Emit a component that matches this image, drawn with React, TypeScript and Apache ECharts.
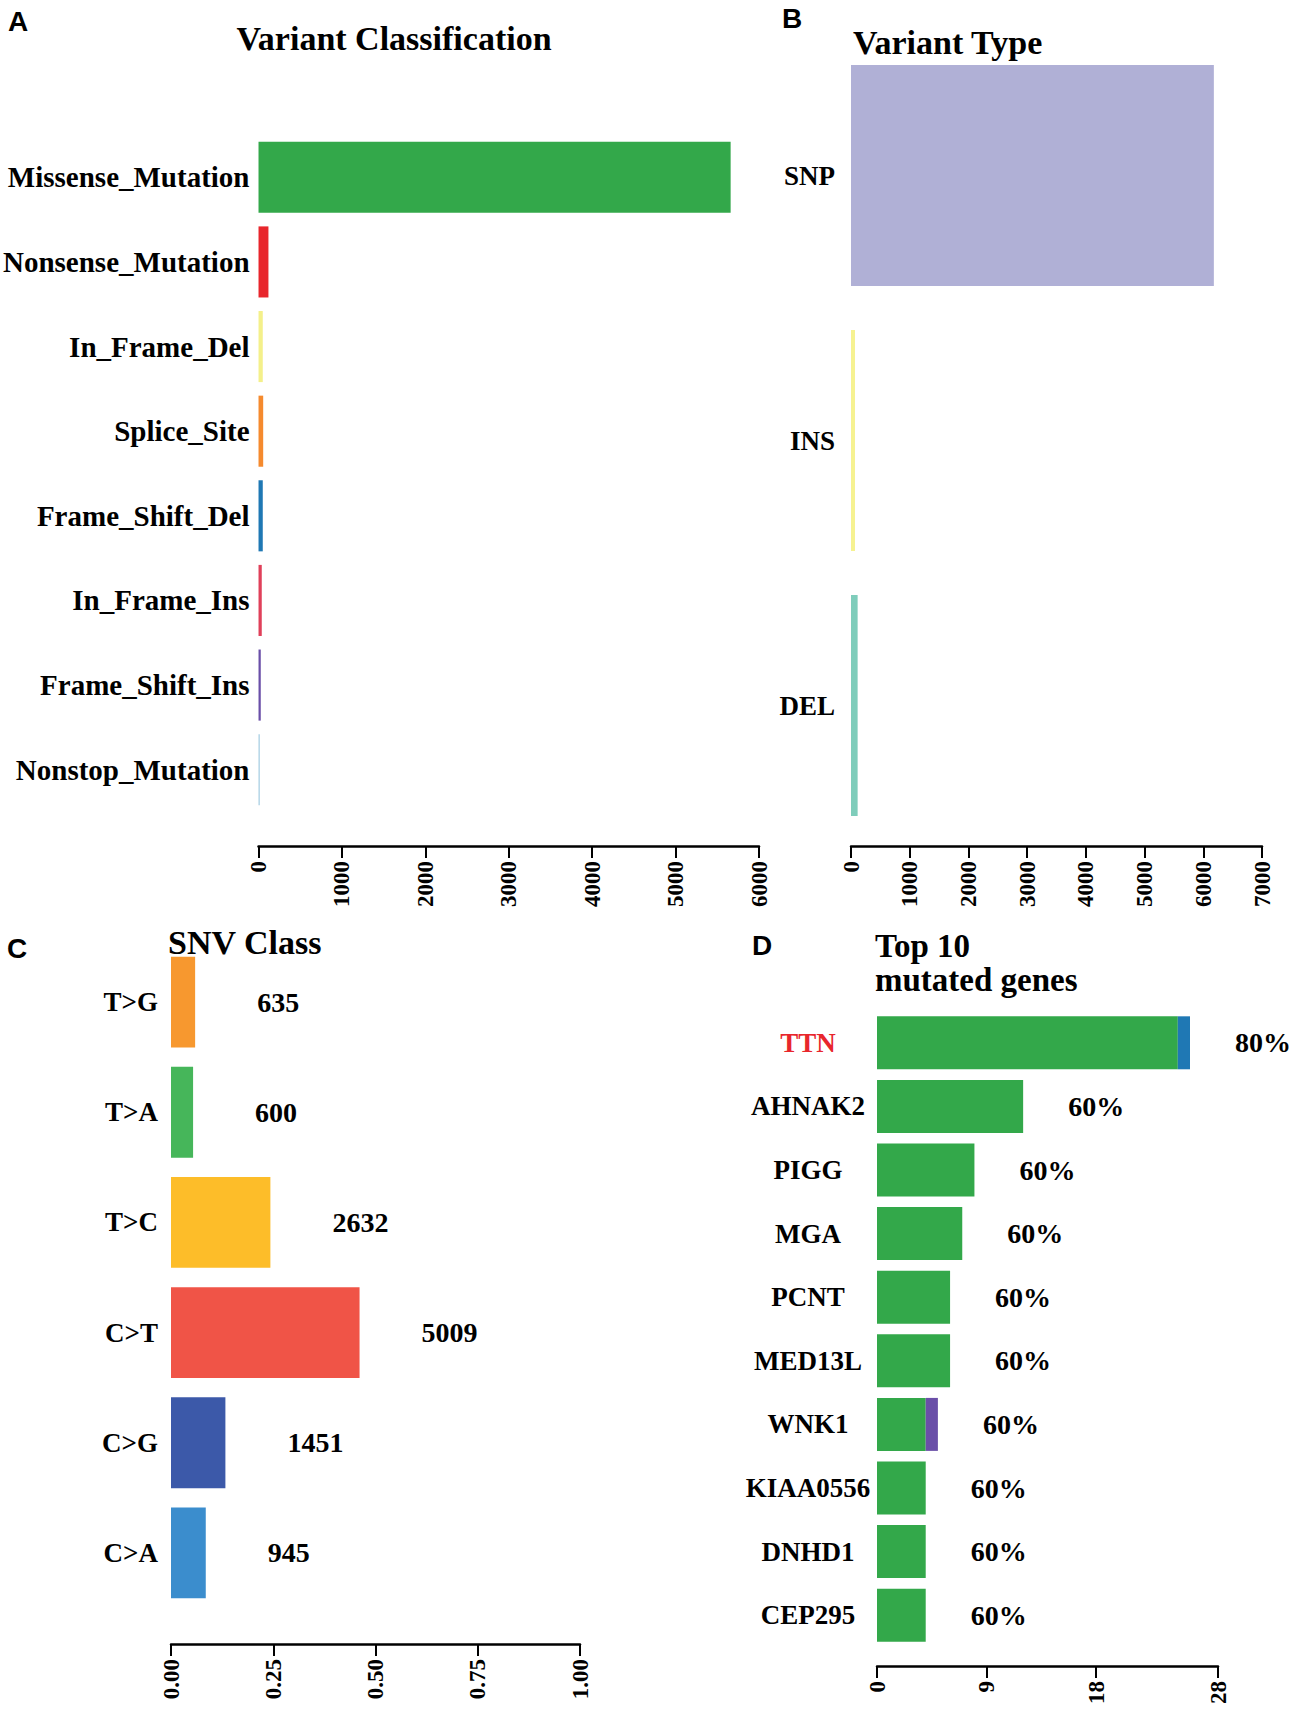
import React, { useEffect, useRef } from "react";
import * as echarts from "echarts";

// ---------- data ----------
const classCategories = [
  "Missense_Mutation",
  "Nonsense_Mutation",
  "In_Frame_Del",
  "Splice_Site",
  "Frame_Shift_Del",
  "In_Frame_Ins",
  "Frame_Shift_Ins",
  "Nonstop_Mutation",
];
const classValues = [5660, 119, 51, 56, 51, 39, 27, 15];
const classColors = ["#33a84a", "#e8262c", "#f4f08a", "#f58a2e", "#1f78b4", "#e0405a", "#6a4fa8", "#a6cee3"];
const classTicks = [0, 6000, 1000];

const typeCategories = ["SNP", "INS", "DEL"];
const typeValues = [6180, 68, 113];
const typeColors = ["#b0b0d6", "#f6f291", "#7fcdbb"];
const typeTicks = [0, 7000, 1000];

const snvCategories = ["T>G", "T>A", "T>C", "C>T", "C>G", "C>A"];
const snvFractions = [0.059, 0.054, 0.243, 0.461, 0.133, 0.085];
const snvCounts = [635, 600, 2632, 5009, 1451, 945];
const snvColors = ["#f7982f", "#46b65a", "#fdbd29", "#f05447", "#3c59a9", "#3b8dcd"];
const snvTicks = [0, 1, 0.25];

const geneCategories = ["TTN", "AHNAK2", "PIGG", "MGA", "PCNT", "MED13L", "WNK1", "KIAA0556", "DNHD1", "CEP295"];
const geneMain = [24.7, 12, 8, 7, 6, 6, 4, 4, 4, 4];
const geneExtra = [1, 0, 0, 0, 0, 0, 1, 0, 0, 0];
const geneExtraColors = ["#1f78b4", "#1f78b4", "#1f78b4", "#1f78b4", "#1f78b4", "#1f78b4", "#6a4fa8", "#1f78b4", "#1f78b4", "#1f78b4"];
const genePct = ["80%", "60%", "60%", "60%", "60%", "60%", "60%", "60%", "60%", "60%"];
const geneTicks = [0, 9, 18, 28];
const geneHighlight = ["TTN"];

// ---------- styles ----------
const SERIF = "'Liberation Serif', 'Times New Roman', serif";
const SANS = "'Liberation Sans', Arial, sans-serif";

function valueAxis(gridIndex: number, min: number, max: number, interval: number | undefined, offset: number, extra: any = {}) {
  return {
    type: "value",
    gridIndex,
    min,
    max,
    interval,
    offset,
    position: "bottom",
    axisLine: { show: true, lineStyle: { color: "#000", width: 2.5 } },
    axisTick: { show: true, length: 12, lineStyle: { color: "#000", width: 2 }, ...(extra.axisTick || {}) },
    axisLabel: {
      rotate: 90,
      fontSize: 23,
      fontWeight: "bold",
      fontFamily: SERIF,
      color: "#000",
      margin: 15,
      formatter: (v: number) => String(v),
      ...(extra.axisLabel || {}),
    },
    splitLine: { show: false },
  };
}

function catAxis(gridIndex: number, data: string[], fontSize: number, margin: number, extra: any = {}) {
  return {
    type: "category",
    gridIndex,
    data,
    inverse: true,
    axisLine: { show: false },
    axisTick: { show: false },
    axisLabel: {
      fontSize,
      fontWeight: "bold",
      fontFamily: SERIF,
      color: "#000",
      margin,
      ...extra,
    },
    splitLine: { show: false },
  };
}

function letter(text: string, x: number, y: number) {
  return {
    type: "text",
    x,
    y,
    style: { text, font: `bold 28px ${SANS}`, fill: "#000", textAlign: "left", textVerticalAlign: "middle" },
  };
}

function title(text: string, x: number, y: number, align: string, size = 34) {
  return {
    type: "text",
    x,
    y,
    style: { text, font: `bold ${size}px ${SERIF}`, fill: "#000", textAlign: align, textVerticalAlign: "middle" },
  };
}

export default function App() {
  const ref = useRef<HTMLDivElement>(null);

  useEffect(() => {
    if (!ref.current) return;
    const chart = echarts.init(ref.current, undefined, { renderer: "svg" });

    const option: any = {
      animation: false,
      backgroundColor: "#ffffff",
      grid: [
        { left: 254, top: 135, width: 505, height: 677, containLabel: false },
        { left: 851, top: 43, width: 411, height: 795, containLabel: false },
        { left: 171, top: 947, width: 409, height: 661, containLabel: false },
        { left: 877, top: 1011, width: 341, height: 636, containLabel: false },
      ],
      xAxis: [
        valueAxis(0, classTicks[0], classTicks[1], classTicks[2], 34),
        valueAxis(1, typeTicks[0], typeTicks[1], typeTicks[2], 8),
        valueAxis(2, snvTicks[0], snvTicks[1], snvTicks[2], 36, {
          axisLabel: { formatter: (v: number) => v.toFixed(2) },
        }),
        valueAxis(3, geneTicks[0], geneTicks[geneTicks.length - 1], undefined, 19, {
          axisTick: { customValues: geneTicks },
          axisLabel: { customValues: geneTicks },
        }),
      ],
      yAxis: [
        catAxis(0, classCategories, 29, 9),
        catAxis(1, typeCategories, 27, 16),
        catAxis(2, snvCategories, 27, 13),
        catAxis(3, geneCategories, 27, 69, {
          align: "center",
          color: (v: string) => (geneHighlight.includes(v) ? "#e8262c" : "#000"),
        }),
      ],
      series: [
        {
          type: "bar",
          xAxisIndex: 0,
          yAxisIndex: 0,
          barCategoryGap: "16%",
          data: classValues.map((v, i) => ({ value: v, itemStyle: { color: classColors[i] } })),
        },
        {
          type: "bar",
          xAxisIndex: 1,
          yAxisIndex: 1,
          barCategoryGap: "16.6%",
          data: typeValues.map((v, i) => ({ value: v, itemStyle: { color: typeColors[i] } })),
        },
        {
          type: "bar",
          xAxisIndex: 2,
          yAxisIndex: 2,
          barCategoryGap: "17.5%",
          data: snvFractions.map((v, i) => ({ value: v, itemStyle: { color: snvColors[i] } })),
          label: {
            show: true,
            position: "right",
            distance: 62,
            formatter: (p: any) => String(snvCounts[p.dataIndex]),
            fontSize: 28,
            fontWeight: "bold",
            fontFamily: SERIF,
            color: "#000",
          },
        },
        {
          type: "bar",
          xAxisIndex: 3,
          yAxisIndex: 3,
          stack: "genes",
          barCategoryGap: "16.7%",
          data: geneMain,
          itemStyle: { color: "#33a84a" },
        },
        {
          type: "bar",
          xAxisIndex: 3,
          yAxisIndex: 3,
          stack: "genes",
          barCategoryGap: "16.7%",
          data: geneExtra.map((v, i) => ({ value: v, itemStyle: { color: geneExtraColors[i] } })),
          label: {
            show: true,
            position: "right",
            distance: 45,
            formatter: (p: any) => genePct[p.dataIndex],
            fontSize: 28,
            fontWeight: "bold",
            fontFamily: SERIF,
            color: "#000",
          },
        },
      ],
      graphic: [
        letter("A", 8, 21),
        letter("B", 782, 18),
        letter("C", 7, 948),
        letter("D", 752, 945),
        title("Variant Classification", 394, 38, "center"),
        title("Variant Type", 853, 42, "left"),
        title("SNV Class", 168, 942, "left"),
        title("Top 10", 875, 946, "left", 33),
        title("mutated genes", 875, 980, "left", 33),
      ],
    };

    chart.setOption(option);
    return () => chart.dispose();
  }, []);

  return (
    <div
      ref={ref}
      style={{ position: "absolute", left: 0, top: 0, width: 1294, height: 1709, background: "#fff" }}
    />
  );
}
